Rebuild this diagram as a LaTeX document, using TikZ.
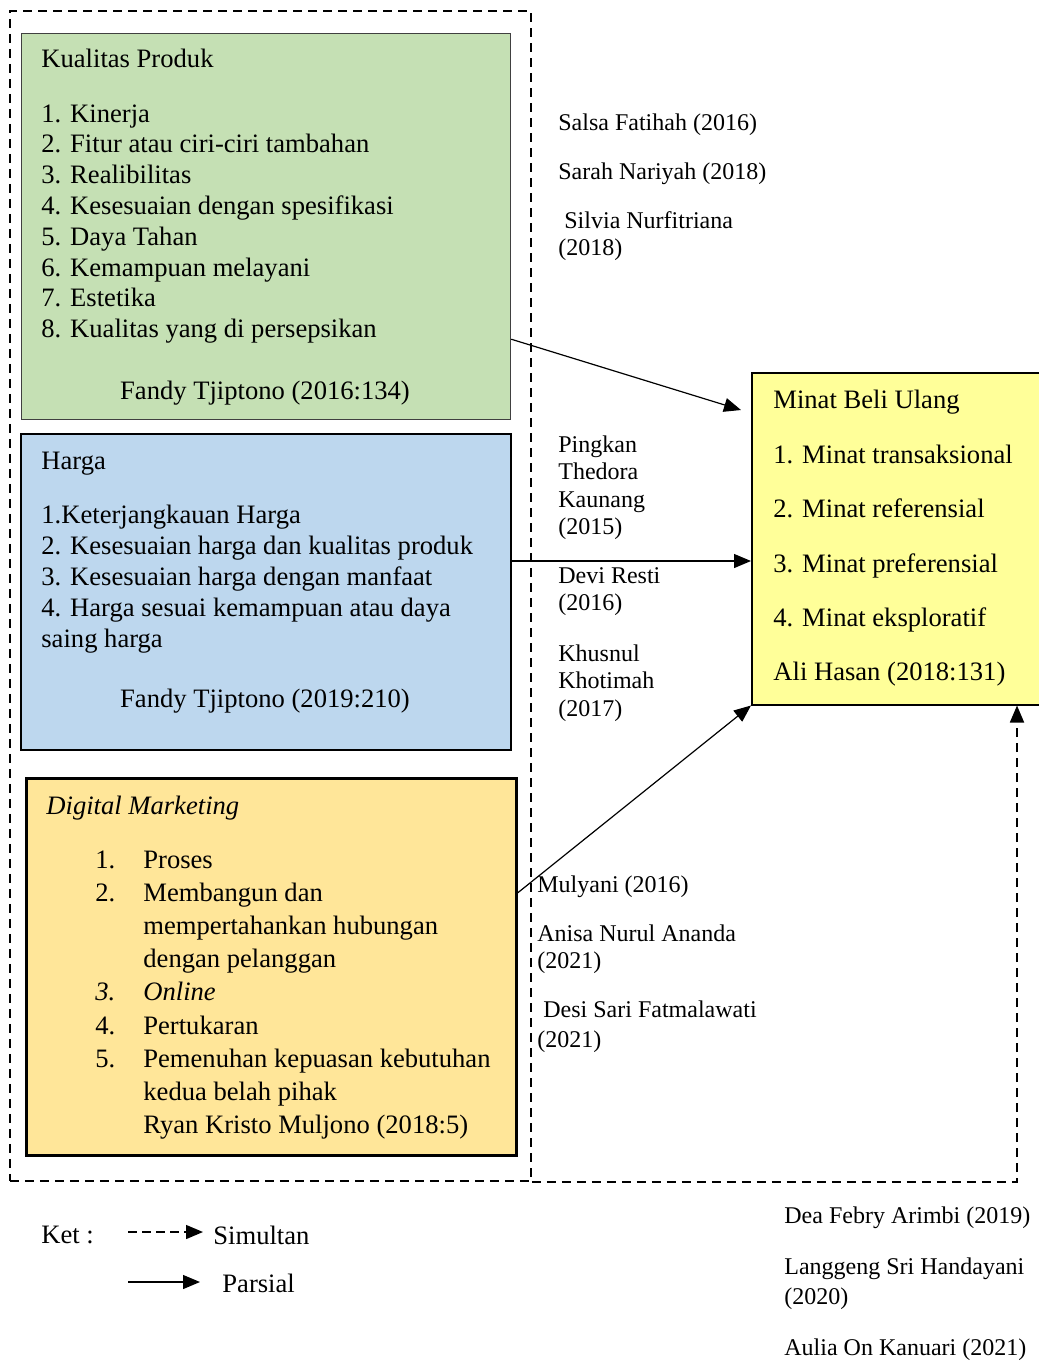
\documentclass[tikz,border=0pt]{standalone}
\usepackage{fontspec}
\setmainfont{Liberation Serif}
\usepackage{xcolor}
\definecolor{kpgreen}{RGB}{197,224,180}
\definecolor{hgblue}{RGB}{189,215,238}
\definecolor{dmgold}{RGB}{255,230,153}
\definecolor{mbyellow}{RGB}{255,255,153}
\usetikzlibrary{arrows.meta,positioning,calc}
\tikzset{
  vbox/.style={draw=#1, anchor=north west, inner sep=0pt},
  ltext/.style={font=\fontsize{13.3}{15.4}\selectfont, anchor=north west, inner sep=0pt, align=left},
  ltab/.style={font=\fontsize{13.3}{16.55}\selectfont, anchor=north west, inner sep=0pt},
  ctext/.style={font=\fontsize{12}{13.8}\selectfont, anchor=north west, inner sep=0pt, align=left},
  parr/.style={-{Triangle[length=8.5pt,width=7pt]}, line width=0.6pt},
  sarr/.style={-{Triangle[length=8.5pt,width=7pt]}, line width=0.9pt, dash pattern=on 4.5pt off 3pt},
}

\begin{document}
\begin{tikzpicture}[x=0.5pt, y=-0.5pt]
\useasboundingbox (0,0) rectangle (1039,1362);

% Outer frame round the independent variables
\node[draw, line width=0.9pt, dash pattern=on 4.5pt off 3pt, anchor=north west, minimum width=260.5pt, minimum height=585pt, inner sep=0pt] (frame) at (9,10) {};

% Kualitas Produk
\node[vbox=black!75, fill=kpgreen, line width=0.6pt, minimum width=244.5pt, minimum height=193pt] (kp) at (21,33) {};
\node[ltext] (kpt) at (41,49) {Kualitas Produk};
\node[ltext] (kpl) at (41,104) {1. Kinerja\\2. Fitur atau ciri-ciri tambahan\\3. Realibilitas\\4. Kesesuaian dengan spesifikasi\\5. Daya Tahan\\6. Kemampuan melayani\\7. Estetika\\8. Kualitas yang di persepsikan};
\node[ltext, anchor=north] (kpc) at (265,381) {Fandy Tjiptono (2016:134)};

% Harga
\node[vbox=black, fill=hgblue, line width=1pt, minimum width=245pt, minimum height=158pt] (hg) at (20,433) {};
\node[ltext] (hgt) at (41,452) {Harga};
\node[ltext] (hgl) at (41,505) {1.Keterjangkauan Harga\\2. Kesesuaian harga dan kualitas produk\\3. Kesesuaian harga dengan manfaat\\4. Harga sesuai kemampuan atau daya\\saing harga};
\node[ltext, anchor=north] (hgc) at (265,689) {Fandy Tjiptono (2019:210)};

% Digital Marketing
\node[vbox=black, fill=dmgold, line width=1.25pt, minimum width=245pt, minimum height=188.5pt] (dm) at (25,777) {};
\node[ltext] (dmt) at (46,796) {\textit{Digital Marketing}};
\node[ltab] (dml) at (95,845) {\begin{tabular}{@{}p{24pt}@{}l@{}}
1. & Proses\\
2. & Membangun dan\\
   & mempertahankan hubungan\\
   & dengan pelanggan\\
\textit{3.} & \textit{Online}\\
4. & Pertukaran\\
5. & Pemenuhan kepuasan kebutuhan\\
   & kedua belah pihak\\
   & Ryan Kristo Muljono (2018:5)
\end{tabular}};

% Minat Beli Ulang
\node[vbox=black, fill=mbyellow, line width=0.75pt, minimum width=150pt, minimum height=166pt] (mbu) at (751,372) {};
\node[ltext, font=\fontsize{13.3}{27.2}\selectfont] (mbt) at (773,390) {Minat Beli Ulang\\1. Minat transaksional\\2. Minat referensial\\3. Minat preferensial\\4. Minat eksploratif\\Ali Hasan (2018:131)};

% Partial and simultaneous effects
\draw[parr] ([yshift=40.5pt]kp.south east) -- ([xshift=-5pt,yshift=-19pt]mbu.north west);
\draw[parr] ([yshift=15.5pt]hg.east) coordinate (h1) -- (h1 -| mbu.west);
\draw[parr] ([yshift=-58pt]dm.north east) -- (mbu.south west);
\draw[sarr] (frame.south east) -| ([xshift=133pt]mbu.south west);

% Previous studies
\node[ctext] (sal) at (558,113) {Salsa Fatihah (2016)};
\node[ctext] (sar) at (558,162) {Sarah Nariyah (2018)};
\node[ctext] (sil) at (558,211) {\hspace{3pt}Silvia Nurfitriana\\(2018)};
\node[ctext] (pin) at (558,435) {Pingkan\\Thedora\\Kaunang\\(2015)};
\node[ctext] (dev) at (558,567) {Devi Resti\\(2016)};
\node[ctext] (khu) at (558,644) {Khusnul\\Khotimah\\(2017)};
\node[ctext] (mul) at (537,875) {Mulyani (2016)};
\node[ctext] (ani) at (537,924) {Anisa Nurul Ananda\\(2021)};
\node[ctext] (des) at (537,1000) {\hspace{3pt}Desi Sari Fatmalawati\\[1.5pt](2021)};
\node[ctext] (dea) at (784,1206) {Dea Febry Arimbi (2019)};
\node[ctext] (lan) at (784,1257) {Langgeng Sri Handayani\\[1.2pt](2020)};
\node[ctext] (aul) at (784,1338) {Aulia On Kanuari (2021)};

% Legend
\node[ltext] (ket) at (41,1226) {Ket :};
\node[ltext] (sim) at (213,1226) {Simultan};
\node[ltext] (par) at (222,1274) {Parsial};
\coordinate (s0) at (128,1232);
\coordinate (p0) at (128,1282);
\draw[sarr, line width=0.7pt, dash pattern=on 4.5pt off 2.5pt, shorten >=5pt] (s0) -- (s0 -| sim.west);
\draw[parr, shorten >=11pt] (p0) -- (p0 -| par.west);
\end{tikzpicture}
\end{document}
